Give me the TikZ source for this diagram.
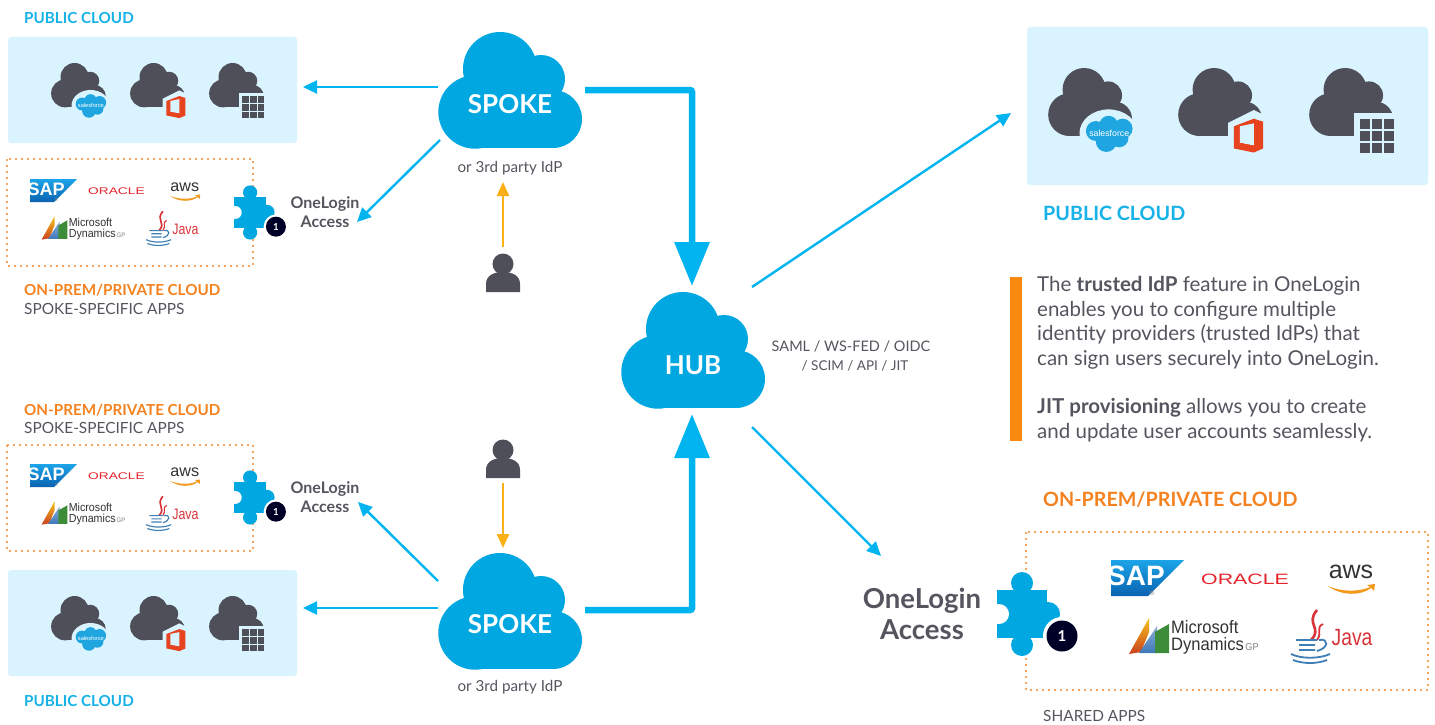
\documentclass[tikz,border=0pt]{standalone}
\usepackage{fontspec}
\setmainfont{Lato}
\newfontfamily\logofont{Liberation Sans}
\usetikzlibrary{arrows.meta}
\definecolor{cloudblue}{HTML}{00A7E1}
\definecolor{arrowblue}{HTML}{00B5EF}
\definecolor{headblue}{HTML}{17B2E8}
\definecolor{paleblue}{HTML}{D9F4FF}
\definecolor{darkcloud}{HTML}{4F4F5A}
\definecolor{bodygray}{HTML}{55555F}
\definecolor{headorange}{HTML}{F58220}
\definecolor{dotorange}{HTML}{F3A560}
\definecolor{userorange}{HTML}{FBB017}
\definecolor{barorange}{HTML}{F98A0F}
\definecolor{sapdark}{HTML}{0A62B0}
\definecolor{saplight}{HTML}{1CA4E8}
\definecolor{oraclered}{HTML}{E5242C}
\definecolor{officered}{HTML}{E8431F}
\definecolor{javared}{HTML}{D9333A}
\definecolor{javablue}{HTML}{3F7FB5}
\definecolor{awsorange}{HTML}{F39A1E}
\definecolor{sfblue}{HTML}{1FA5DF}
\definecolor{msgreen}{HTML}{3C8C3A}
\definecolor{msblue}{HTML}{3E78B8}
\definecolor{msyellow}{HTML}{F6C21C}
\definecolor{msred}{HTML}{C9401E}
\tikzset{
  thinarrow/.style={draw=arrowblue,line width=2.4pt,-{Triangle[length=14pt,width=13pt]}},
  userarrow/.style={draw=userorange,line width=2.4pt,-{Triangle[length=14pt,width=12pt]}},
  thickarrow/.style={draw=arrowblue,line width=6.5pt,rounded corners=2pt,-{Triangle[length=44pt,width=34pt]}},
  bluepanel/.style={fill=paleblue,rounded corners=3pt},
  dotbox/.style={draw=dotorange,line width=1.6pt,dash pattern=on 1.6pt off 4.4pt},
  headlabel/.style={anchor=west,inner sep=0pt,font=\bfseries\fontsize{15.2}{18}\selectfont},
  biglabel/.style={anchor=west,inner sep=0pt,font=\bfseries\fontsize{19.7}{22}\selectfont},
  graylabel/.style={anchor=west,inner sep=0pt,text=bodygray,font=\fontsize{15.4}{17}\selectfont},
  smalltext/.style={inner sep=0pt,text=bodygray,font=\fontsize{15.2}{19}\selectfont,align=center},
  prototext/.style={inner sep=0pt,text=bodygray,font=\fontsize{14.5}{19.5}\selectfont,align=center},
  cloudtext/.style={inner sep=0pt,text=white,font=\bfseries\fontsize{26}{30}\selectfont},
  accesstext/.style={inner sep=0pt,text=bodygray,align=center,font=\bfseries\fontsize{16}{19}\selectfont},
}
% cloud outline, 144 x 116 units, origin at top left
\newcommand{\cloudfill}[1]{%
  \fill[#1] (62,37) circle (37);
  \fill[#1] (103,47) circle (24);
  \fill[#1] (115,87) circle (29);
  \fill[#1] (37,80) circle (36.7);
  \fill[#1] (37,50) rectangle (115,116);}
\newcommand{\bigcloud}[2]{\begin{scope}[shift={(#1,#2)}]\cloudfill{cloudblue}\end{scope}}
\newcommand{\sficon}[4]{\begin{scope}[shift={(#1,#2)},scale=#3]
  \cloudfill{darkcloud}
  \fill[paleblue] (104,112) ellipse (50 and 41);
  \fill[sfblue] (82,108) circle (17);
  \fill[sfblue] (104,98) circle (16);
  \fill[sfblue] (128,104) circle (17);
  \fill[sfblue] (100,126) circle (18);
  \fill[sfblue] (122,120) circle (16);
  \fill[sfblue] (92,102) rectangle (125,126);
  \node[transform shape,text=white,inner sep=0pt,font=\logofont\fontsize{15}{15}\selectfont] (#4) at (105,112) {salesforce};
\end{scope}}
\newcommand{\officon}[3]{\begin{scope}[shift={(#1,#2)},scale=#3]
  \cloudfill{darkcloud}
  \fill[paleblue] (86,94) -- (130,72) -- (150,82) -- (150,150) -- (86,150) -- cycle;
  \fill[officered] (96,138) -- (96,100) -- (130,87) -- (146,92) -- (146,138) -- (130,145) -- cycle;
  \fill[paleblue] (106,100) -- (130,95) -- (130,133) -- (106,128) -- cycle;
  \fill[officered] (106,129) -- (130,133) -- (130,136) -- cycle;
\end{scope}}
\newcommand{\gridicon}[3]{\begin{scope}[shift={(#1,#2)},scale=#3]
  \cloudfill{darkcloud}
  \fill[paleblue] (78,78) rectangle (150,150);
  \foreach \i in {0,1,2}{\foreach \j in {0,1,2}{
    \fill[darkcloud] (87+20.5*\i,87+20.5*\j) rectangle ++(17.5,17.5);}}
\end{scope}}
\newcommand{\puzzle}[4]{\begin{scope}[shift={(#1,#2)},scale=#3]
  \fill[cloudblue] (0,0) rectangle (50,48);
  \fill[cloudblue] (25,-7) circle (11);
  \fill[cloudblue] (25,55) circle (11);
  \fill[cloudblue] (51,24) circle (12);
  \fill[white] (2,24) circle (10);
  \fill[white] (-3,12) rectangle (0,36);
  \fill[white] (65,46) circle (19);
  \fill[black!85!blue] (65,46) circle (15.5);
  \node[transform shape,text=white,inner sep=0pt,font=\bfseries\fontsize{15}{15}\selectfont] (#4) at (65,46) {1};
\end{scope}}
% application logos, origin at top left of the SAP logo
\newcommand{\applogos}[4]{\begin{scope}[shift={(#1,#2)},scale=#3]
  \shade[top color=saplight,bottom color=sapdark] (0,0) -- (73,0) -- (37,36) -- (0,36) -- cycle;
  \node[transform shape,text=white,inner sep=0pt,font=\logofont\bfseries\fontsize{28}{28}\selectfont] (#4sap) at (25,16) {SAP};
  \node[transform shape,text=black!45,inner sep=0pt,font=\logofont\fontsize{7}{7}\selectfont] (#4reg) at (41,33) {®};
  \node[transform shape,text=oraclered,inner sep=0pt,xscale=1.42,font=\logofont\fontsize{15}{15}\selectfont] (#4oracle) at (134,19) {ORACLE};
  \node[transform shape,text=black!80,inner sep=0pt,font=\logofont\fontsize{25}{25}\selectfont] (#4aws) at (240,12) {aws};
  \fill[awsorange] (217,26) .. controls (230,36) and (250,36) .. (260,28) -- (263,31) -- (264,24) -- (256,25) -- (259,27) .. controls (248,32) and (230,32) .. (217,26) -- cycle;
  \shade[top color=msyellow,bottom color=msred] (18,94) -- (38,58) -- (38,72) -- (30,92) -- cycle;
  \shade[top color=msblue!60,bottom color=msblue] (28,93) -- (46,66) -- (46,93) -- cycle;
  \fill[msgreen] (44,93) -- (44,72) -- (58,64) -- (58,93) -- cycle;
  \node[transform shape,anchor=west,text=black!80,inner sep=0pt,xscale=.92,font=\logofont\fontsize{18}{18}\selectfont] (#4ms) at (60,67) {Microsoft};
  \node[transform shape,anchor=west,text=black!80,inner sep=0pt,xscale=.92,font=\logofont\fontsize{18}{18}\selectfont] (#4dyn) at (60,86) {Dynamics{\fontsize{10}{10}\selectfont\color{black!50}\,GP}};
  \draw[javared,line width=2.6pt*#3] (206,50) .. controls (194,64) and (212,68) .. (200,80);
  \draw[javared,line width=1.8pt*#3] (212,64) .. controls (204,68) and (212,72) .. (206,80);
  \draw[javablue,line width=1.8pt*#3] (185,80) -- (206,80) (188,85) -- (204,85) (188,90) -- (204,90) (180,94) .. controls (190,99) and (208,99) .. (219,94) (182,100) .. controls (192,104) and (206,104) .. (216,100) (208,80) .. controls (218,78) and (218,88) .. (206,91);
  \node[transform shape,text=javared,inner sep=0pt,xscale=.82,font=\logofont\fontsize{23.5}{24}\selectfont] (#4java) at (241,78) {Java};
\end{scope}}
\newcommand{\person}[2]{\begin{scope}[shift={(#1,#2)}]
  \fill[darkcloud] (-17,0) -- (-17,-8) .. controls (-17,-16) and (-10,-20) .. (0,-20) .. controls (10,-20) and (17,-16) .. (17,-8) -- (17,0) -- cycle;
  \fill[darkcloud] (0,-28) circle (10.5);
\end{scope}}
\begin{document}
\begin{tikzpicture}[x=1pt,y=-1pt]
\useasboundingbox (0,0) rectangle (1435,725);
\fill[white] (0,0) rectangle (1435,725);
% panels
\fill[bluepanel] (8,37) rectangle (297,143);
\fill[bluepanel] (8,570) rectangle (297,676);
\fill[bluepanel] (1027,27) rectangle (1428,185);
\draw[dotbox] (7,159) rectangle (253,266);
\draw[dotbox] (7,445) rectangle (253,551);
\draw[dotbox] (1026,532) rectangle (1428,690);
% dark clouds
\sficon{51}{63}{.38}{sfa}\officon{130}{63}{.38}\gridicon{209}{63}{.38}
\sficon{51}{596}{.38}{sfb}\officon{130}{596}{.38}\gridicon{209}{596}{.38}
\sficon{1048}{68}{.583}{sfc}\officon{1178}{68}{.583}\gridicon{1309}{68}{.583}
% logos
\applogos{30}{179}{.645}{la}
\applogos{30}{464}{.645}{lb}
\applogos{1111}{560}{1}{lc}
% puzzles
\puzzle{234}{197}{.645}{pa}
\puzzle{234}{482}{.645}{pb}
\puzzle{997}{590}{1}{pc}
% large clouds
\bigcloud{438}{32}\bigcloud{438}{553}\bigcloud{621}{292}
\node[cloudtext] (spokeA) at (510,104) {SPOKE};
\node[cloudtext] (spokeB) at (510,624) {SPOKE};
\node[cloudtext] (hub) at (693,365) {HUB};
\person{503}{292}\person{503}{478}
% labels
\node[headlabel,text=headblue] (lpa) at (24,18) {PUBLIC CLOUD};
\node[headlabel,text=headblue] (lpb) at (24,701) {PUBLIC CLOUD};
\node[headlabel,text=headorange] (loa) at (24,290) {ON-PREM/PRIVATE CLOUD};
\node[graylabel] (lsa) at (24,309) {SPOKE-SPECIFIC APPS};
\node[headlabel,text=headorange] (lob) at (24,410) {ON-PREM/PRIVATE CLOUD};
\node[graylabel] (lsb) at (24,428) {SPOKE-SPECIFIC APPS};
\node[biglabel,text=headblue] (lpc) at (1043,213) {PUBLIC CLOUD};
\node[biglabel,text=headorange] (loc) at (1043,500) {ON-PREM/PRIVATE CLOUD};
\node[graylabel] (lsc) at (1043,716) {SHARED APPS};
\node[smalltext] (idpa) at (510,168) {or 3rd party IdP};
\node[smalltext] (idpb) at (510,687) {or 3rd party IdP};
\node[prototext] (proto) at (851,356) {SAML / WS-FED / OIDC\\\hspace*{8pt}{\fontsize{13.5}{19.5}\selectfont / SCIM / API / JIT}};
\node[accesstext] (acca) at (325,212) {OneLogin\\Access};
\node[accesstext] (accb) at (325,497) {OneLogin\\Access};
\node[accesstext,font=\bfseries\fontsize{27.5}{31}\selectfont] (accc) at (922,614) {OneLogin\\Access};
% explanatory text
\fill[barorange] (1010,277) rectangle (1022,441);
\node[anchor=north west,inner sep=0pt,text=bodygray,align=left,font=\fontsize{20.5}{24.6}\selectfont] (expl) at (1037,276) {The \textbf{trusted IdP} feature in OneLogin\\enables you to configure multiple\\identity providers (trusted IdPs) that\\can sign users securely into OneLogin.\\[23.8pt]\textbf{JIT provisioning} allows you to create\\and update user accounts seamlessly.};
% connector ends
\coordinate (a1) at (438,87); \coordinate (a2) at (303,87);
\coordinate (b1) at (440,140); \coordinate (b2) at (357,222);
\coordinate (c1) at (438,581); \coordinate (c2) at (358,502);
\coordinate (d1) at (438,608); \coordinate (d2) at (303,608);
\coordinate (e1) at (752,287); \coordinate (e2) at (1011,113);
\coordinate (f1) at (752,427); \coordinate (f2) at (881,556);
\coordinate (g1) at (503,247); \coordinate (g2) at (503,182);
\coordinate (h1) at (503,483); \coordinate (h2) at (503,548);
\coordinate (i1) at (585,90); \coordinate (i2) at (692,90); \coordinate (i3) at (692,286);
\coordinate (j1) at (585,610); \coordinate (j2) at (692,610); \coordinate (j3) at (692,414);
\draw[thinarrow] (a1) -- (a2);
\draw[thinarrow] (b1) -- (b2);
\draw[thinarrow] (c1) -- (c2);
\draw[thinarrow] (d1) -- (d2);
\draw[thinarrow] (e1) -- (e2);
\draw[thinarrow] (f1) -- (f2);
\draw[userarrow] (g1) -- (g2);
\draw[userarrow] (h1) -- (h2);
\draw[thickarrow] (i1) -- (i2) -- (i3);
\draw[thickarrow] (j1) -- (j2) -- (j3);
\end{tikzpicture}
\end{document}
